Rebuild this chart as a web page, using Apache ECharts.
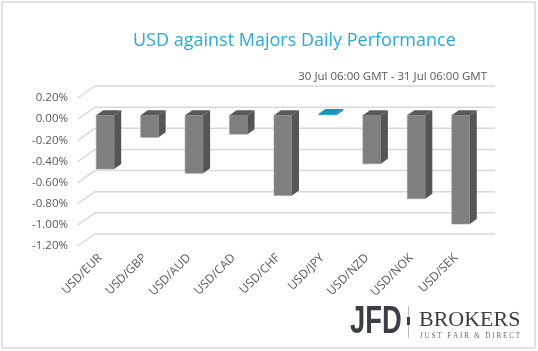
<!DOCTYPE html>
<html>
<head>
  <meta charset="utf-8">
  <title>USD against Majors</title>
  <script src="https://cdn.jsdelivr.net/npm/echarts@6/dist/echarts.min.js"></script>
  <style>
    html, body { margin: 0; padding: 0; background: #fff; }
    #main { width: 538px; height: 351px; }
  </style>
</head>
<body>
<div id="main"></div>
<script type="text/javascript">
// pairs and daily change in %
var pairs = ['USD/EUR', 'USD/GBP', 'USD/AUD', 'USD/CAD', 'USD/CHF', 'USD/JPY', 'USD/NZD', 'USD/NOK', 'USD/SEK'];
var changes = [-0.51, -0.21, -0.55, -0.18, -0.76, 0.01, -0.46, -0.79, -1.03];
var yTicks = [0.2, 0, -0.2, -0.4, -0.6, -0.8, -1.0, -1.2];

var myChart = echarts.init(document.getElementById('main'));

// fake 3d depth of the floor and the bars
var floorDx = 17, floorDy = 12;
var barDx = 7, barDy = 5, barHalf = 9, barShiftX = 5, barShiftY = -4;

function renderGrid(params, api) {
  var cs = params.coordSys;
  var y = api.coord([0, api.value(1)])[1];
  return {
    type: 'polyline',
    shape: { points: [[cs.x, y], [cs.x + floorDx, y - floorDy], [cs.x + cs.width + floorDx, y - floorDy]] },
    style: { stroke: '#d9d9d9', lineWidth: 1.5, fill: null },
    silent: true
  };
}

function renderBar(params, api) {
  var i = api.value(0), v = api.value(1);
  var p0 = api.coord([i, 0]);
  var p1 = api.coord([i, v]);
  var cx = p0[0] + barShiftX;
  var ya = p0[1] + barShiftY, yb = p1[1] + barShiftY;
  var top = Math.min(ya, yb), bot = Math.max(ya, yb);
  var pos = v > 0;
  var front = pos ? '#1aa3c8' : '#7f7f7f';
  var side = pos ? '#0f7f9c' : '#555555';
  var lid = pos ? '#1597b9' : '#595959';
  return {
    type: 'group',
    children: [
      {
        type: 'rect',
        shape: { x: cx - barHalf, y: top, width: barHalf * 2, height: bot - top },
        style: { fill: front, stroke: pos ? null : '#9a9a9a', lineWidth: 0.6 }
      },
      {
        type: 'polygon',
        shape: { points: [[cx + barHalf, top], [cx + barHalf + barDx, top - barDy], [cx + barHalf + barDx, bot - barDy], [cx + barHalf, bot]] },
        style: { fill: side }
      },
      {
        type: 'polygon',
        shape: { points: [[cx - barHalf, top], [cx + barHalf, top], [cx + barHalf + barDx, top - barDy], [cx - barHalf + barDx, top - barDy]] },
        style: { fill: lid }
      }
    ]
  };
}

var option = {
  animation: false,
  title: [
    {
      text: 'USD against Majors Daily Performance',
      left: 128,
      top: 27,
      textStyle: { color: '#27aad8', fontSize: 18, fontWeight: 'normal', fontFamily: 'Open Sans' }
    },
    {
      text: '30 Jul 06:00 GMT - 31 Jul 06:00 GMT',
      right: 46,
      top: 66,
      textStyle: { color: '#595959', fontSize: 11.5, fontWeight: 'normal', fontFamily: 'Open Sans' }
    }
  ],
  grid: { left: 78, right: 60, top: 98, bottom: 105 },
  xAxis: {
    type: 'category',
    data: pairs,
    boundaryGap: true,
    axisLine: { show: false },
    axisTick: { show: false },
    axisLabel: { rotate: 45, margin: 10, color: '#595959', fontSize: 12, fontFamily: 'Open Sans', interval: 0 }
  },
  yAxis: {
    type: 'value',
    min: -1.2,
    max: 0.2,
    interval: 0.2,
    axisLine: { show: false },
    axisTick: { show: false },
    splitLine: { show: false },
    axisLabel: {
      margin: 10,
      color: '#595959',
      fontSize: 11.5,
      fontFamily: 'Open Sans',
      formatter: function (val) { return val.toFixed(2) + '%'; }
    }
  },
  series: [
    {
      type: 'custom',
      renderItem: renderGrid,
      data: yTicks.map(function (t) { return [0, t]; }),
      encode: { x: 0, y: 1 },
      z: 1,
      silent: true
    },
    {
      type: 'custom',
      renderItem: renderBar,
      data: changes.map(function (v, i) { return [i, v]; }),
      encode: { x: 0, y: 1 },
      z: 2
    }
  ],
  graphic: [
    {
      type: 'rect',
      shape: { x: 2, y: 2, width: 533, height: 346 },
      style: { fill: null, stroke: '#d9d9d9', lineWidth: 1.5 },
      silent: true
    },
    {
      type: 'text',
      x: 350, y: 304,
      scaleX: 0.72,
      style: { text: 'JFD', fill: '#3a3f45', font: 'bold 38px "Liberation Sans"' }
    },
    {
      type: 'rect',
      shape: { x: 408, y: 306, width: 1, height: 32 },
      style: { fill: '#b8bcc0' }
    },
    {
      type: 'rect',
      shape: { x: 407, y: 317, width: 3, height: 8 },
      style: { fill: '#3a3f45' }
    },
    {
      type: 'text',
      x: 419, y: 309,
      style: { text: 'BROKERS', fill: '#3a3f45', font: '22px "Liberation Serif"' }
    },
    {
      type: 'text',
      x: 420, y: 333,
      style: { text: 'J U S T   F A I R   &   D I R E C T', fill: '#6a6e72', font: '7.2px "Liberation Serif"' }
    }
  ]
};
myChart.setOption(option);
</script>
</body>
</html>
